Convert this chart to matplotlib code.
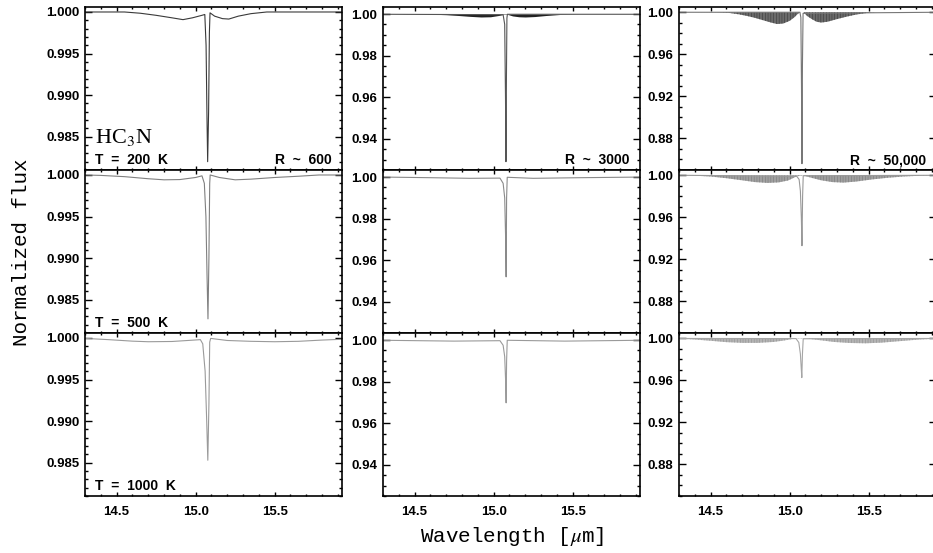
import numpy as np
import matplotlib.pyplot as plt
from matplotlib.ticker import MultipleLocator, FormatStrFormatter

plt.rcParams['mathtext.fontset'] = 'stix'
plt.rcParams['hatch.linewidth'] = 0.4

# ---- R ~ 600 (resolved-out lines, single line per panel) ----
wl_r600_t200 = [14.30, 14.55, 14.65, 14.75, 14.85, 14.92, 14.98, 15.04, 15.058,
                15.066, 15.072, 15.076, 15.082, 15.087, 15.091, 15.12, 15.17,
                15.21, 15.27, 15.35, 15.45, 15.93]
fx_r600_t200 = [1.0000, 1.0000, 0.99985, 0.9996, 0.9993, 0.99908, 0.9993, 0.9996,
                0.9997, 0.9960, 0.9870, 0.9820, 0.9880, 0.9975, 0.9999, 0.9995,
                0.9992, 0.99915, 0.9995, 0.9998, 1.0000, 1.0000]

wl_r600_t500 = [14.30, 14.40, 14.55, 14.70, 14.80, 14.90, 15.00, 15.04, 15.055,
                15.065, 15.072, 15.078, 15.084, 15.089, 15.092, 15.15, 15.25,
                15.35, 15.50, 15.65, 15.78, 15.93]
fx_r600_t500 = [1.0000, 0.99995, 0.9998, 0.99955, 0.99942, 0.99945, 0.9997, 0.9999,
                0.9990, 0.9950, 0.9880, 0.9827, 0.9900, 0.9990, 1.0000, 0.9997,
                0.99942, 0.9995, 0.9997, 0.99985, 1.0000, 1.0000]

wl_r600_t1000 = [14.30, 14.45, 14.60, 14.70, 14.85, 14.95, 15.03, 15.045, 15.06,
                 15.07, 15.077, 15.084, 15.089, 15.095, 15.20, 15.35, 15.50,
                 15.65, 15.80, 15.93]
fx_r600_t1000 = [0.99995, 0.9998, 0.99962, 0.99955, 0.99958, 0.9997, 0.9998, 0.9993,
                 0.9960, 0.9900, 0.9853, 0.9920, 0.9995, 0.99995, 0.9997, 0.9996,
                 0.99955, 0.9996, 0.99975, 0.99985]

# ---- R ~ 3000 ----
wl_r3000_t200 = [14.30, 15.060, 15.070, 15.075, 15.078, 15.081, 15.084, 15.087, 15.93]
fx_r3000_t200 = [0.9999, 0.9997, 0.9950, 0.9600, 0.9290, 0.9700, 0.9980, 0.9999, 0.9999]
band_wl_r3000_t200 = [14.30, 14.60, 14.70, 14.78, 14.85, 14.92, 14.98, 15.03, 15.06,
                      15.09, 15.12, 15.16, 15.20, 15.26, 15.33, 15.42, 15.55, 15.93]
band_lo_r3000_t200 = [1.0000, 0.99995, 0.9997, 0.9993, 0.9989, 0.9986, 0.9987, 0.9993,
                      0.9998, 0.9998, 0.9991, 0.9987, 0.9986, 0.9988, 0.9993, 0.9998,
                      1.0000, 1.0000]

wl_r3000_t500 = [14.30, 14.60, 14.85, 15.04, 15.06, 15.070, 15.076, 15.079, 15.082,
                 15.086, 15.25, 15.55, 15.93]
fx_r3000_t500 = [1.0000, 0.9997, 0.9994, 0.9995, 0.9970, 0.9900, 0.9700, 0.9520,
                 0.9900, 0.9999, 0.9994, 0.9997, 1.0000]

wl_r3000_t1000 = [14.30, 14.75, 15.04, 15.06, 15.070, 15.076, 15.079, 15.082,
                  15.086, 15.45, 15.93]
fx_r3000_t1000 = [0.9999, 0.9995, 0.9997, 0.9975, 0.9920, 0.9800, 0.9698, 0.9900,
                  0.9999, 0.9995, 0.9999]

# ---- R ~ 50,000 (dense line forest drawn as envelope) ----
wl_r50k_t200 = [14.30, 15.065, 15.071, 15.075, 15.078, 15.081, 15.085, 15.93]
fx_r50k_t200 = [1.0000, 1.0000, 0.9950, 0.9300, 0.8560, 0.9500, 0.9990, 1.0000]
env_wl_r50k_t200 = [14.30, 14.55, 14.62, 14.68, 14.73, 14.78, 14.83, 14.88, 14.92,
                    14.96, 15.00, 15.03, 15.05, 15.065, 15.087, 15.11, 15.14, 15.17,
                    15.20, 15.24, 15.30, 15.36, 15.42, 15.49, 15.55, 15.93]
env_lo_r50k_t200 = [1.0000, 0.9999, 0.9993, 0.9980, 0.9965, 0.9947, 0.9925, 0.9903,
                    0.9888, 0.9893, 0.9918, 0.9952, 0.9982, 1.0000, 1.0000, 0.9965,
                    0.9935, 0.9910, 0.9902, 0.9910, 0.9935, 0.9958, 0.9978, 0.9994,
                    1.0000, 1.0000]

wl_r50k_t500 = [14.30, 15.045, 15.060, 15.068, 15.074, 15.078, 15.082, 15.086, 15.93]
fx_r50k_t500 = [1.0000, 0.9990, 0.9960, 0.9850, 0.9600, 0.9330, 0.9800, 0.9995, 1.0000]
env_wl_r50k_t500 = [14.30, 14.40, 14.50, 14.60, 14.70, 14.78, 14.86, 14.93, 14.99,
                    15.045, 15.087, 15.14, 15.20, 15.27, 15.34, 15.42, 15.52, 15.62,
                    15.72, 15.82, 15.93]
env_lo_r50k_t500 = [1.0000, 0.9996, 0.9988, 0.9972, 0.9952, 0.9935, 0.9927, 0.9932,
                    0.9950, 0.9990, 0.9998, 0.9975, 0.9952, 0.9935, 0.9930, 0.9940,
                    0.9960, 0.9976, 0.9988, 0.9995, 0.9998]

wl_r50k_t1000 = [14.30, 15.040, 15.058, 15.068, 15.074, 15.077, 15.081, 15.086, 15.93]
fx_r50k_t1000 = [0.9998, 0.9997, 0.9960, 0.9850, 0.9700, 0.9626, 0.9850, 0.9995, 0.9998]
env_wl_r50k_t1000 = [14.30, 14.40, 14.50, 14.60, 14.70, 14.80, 14.90, 14.97, 15.03,
                     15.11, 15.19, 15.28, 15.38, 15.48, 15.58, 15.70, 15.82, 15.93]
env_lo_r50k_t1000 = [0.9996, 0.9988, 0.9976, 0.9963, 0.9956, 0.9956, 0.9965, 0.9980,
                     0.9997, 0.9997, 0.9982, 0.9965, 0.9955, 0.9952, 0.9958, 0.9973,
                     0.9988, 0.9996]

temps = ['T  =  200  K', 'T  =  500  K', 'T  =  1000  K']
resol = ['R  ~  600', 'R  ~  3000', 'R  ~  50,000']

lines = [[(wl_r600_t200, fx_r600_t200), (wl_r3000_t200, fx_r3000_t200), (wl_r50k_t200, fx_r50k_t200)],
         [(wl_r600_t500, fx_r600_t500), (wl_r3000_t500, fx_r3000_t500), (wl_r50k_t500, fx_r50k_t500)],
         [(wl_r600_t1000, fx_r600_t1000), (wl_r3000_t1000, fx_r3000_t1000), (wl_r50k_t1000, fx_r50k_t1000)]]
fills = {(0, 1): (band_wl_r3000_t200, band_lo_r3000_t200, '#222222', '#111111'),
         (0, 2): (env_wl_r50k_t200, env_lo_r50k_t200, '#6a6a6a', '#3a3a3a'),
         (1, 2): (env_wl_r50k_t500, env_lo_r50k_t500, '#a0a0a0', '#7a7a7a'),
         (2, 2): (env_wl_r50k_t1000, env_lo_r50k_t1000, '#b4b4b4', '#909090')}
line_cols = [['#3a3a3a', '#555555', '#777777'],
             ['#808080', '#8a8a8a', '#999999'],
             ['#9a9a9a', '#9a9a9a', '#a5a5a5']]

ylims = [(0.981, 1.0006), (0.925, 1.0034), (0.85, 1.005)]
ymaj = [0.005, 0.02, 0.04]
ymin = [0.001, 0.005, 0.01]
yfmt = ['%.3f', '%.2f', '%.2f']

W, H = 933.0, 553.0
lefts = [85, 383, 679]
tops = [7, 170, 333]
aw, ah = 257, 163

fig = plt.figure(figsize=(9.33, 5.53), dpi=100)
tick_font = dict(family='Liberation Sans', weight='bold', size=9.5)

for r in range(3):
    for c in range(3):
        ax = fig.add_axes([lefts[c] / W, 1 - (tops[r] + ah) / H, aw / W, ah / H])
        if (r, c) in fills:
            fw, fl, fc, hc = fills[(r, c)]
            ax.fill_between(fw, fl, 1.0, facecolor=fc, edgecolor=hc, lw=0.0,
                            hatch='||||||' if c == 2 else None)
        wl, fx = lines[r][c]
        ax.plot(wl, fx, color=line_cols[r][c], lw=0.8)
        ax.set_xlim(14.3, 15.926)
        ax.set_ylim(*ylims[c])
        ax.xaxis.set_major_locator(MultipleLocator(0.5))
        ax.xaxis.set_minor_locator(MultipleLocator(0.1))
        ax.yaxis.set_major_locator(MultipleLocator(ymaj[c]))
        ax.yaxis.set_minor_locator(MultipleLocator(ymin[c]))
        ax.yaxis.set_major_formatter(FormatStrFormatter(yfmt[c]))
        ax.xaxis.set_major_formatter(FormatStrFormatter('%.1f'))
        ax.tick_params(which='both', direction='in', top=True, right=True, width=1.0)
        ax.tick_params(axis='x', which='major', length=3, pad=7)
        ax.tick_params(axis='x', which='minor', length=1.6)
        ax.tick_params(axis='y', which='major', length=5, pad=4)
        ax.tick_params(axis='y', which='minor', length=2.5)
        for lab in ax.get_yticklabels() + ax.get_xticklabels():
            lab.set_fontproperties(tick_font)
        if r < 2:
            ax.set_xticklabels([])
        for sp in ax.spines.values():
            sp.set_linewidth(1.2)
        if c == 0:
            ax.text(0.04, 0.035, temps[r], transform=ax.transAxes, fontsize=10,
                    family='Liberation Sans', weight='bold')
        if r == 0:
            ax.text(0.96, 0.035, resol[c], transform=ax.transAxes, fontsize=10,
                    family='Liberation Sans', weight='bold', ha='right')
        if r == 0 and c == 0:
            ax.text(0.04, 0.165, 'HC$_3$N', transform=ax.transAxes, fontsize=16,
                    family='Liberation Serif')

fig.text(22 / W, 1 - 252 / H, 'Normalized flux', rotation=90, family='Liberation Mono',
         fontsize=15, ha='center', va='center')
fig.text(512 / W, 1 - 537 / H, r'Wavelength [$\mu$m]', family='Liberation Mono',
         fontsize=15, ha='center', va='center')

fig.savefig('out.png', dpi=100)
